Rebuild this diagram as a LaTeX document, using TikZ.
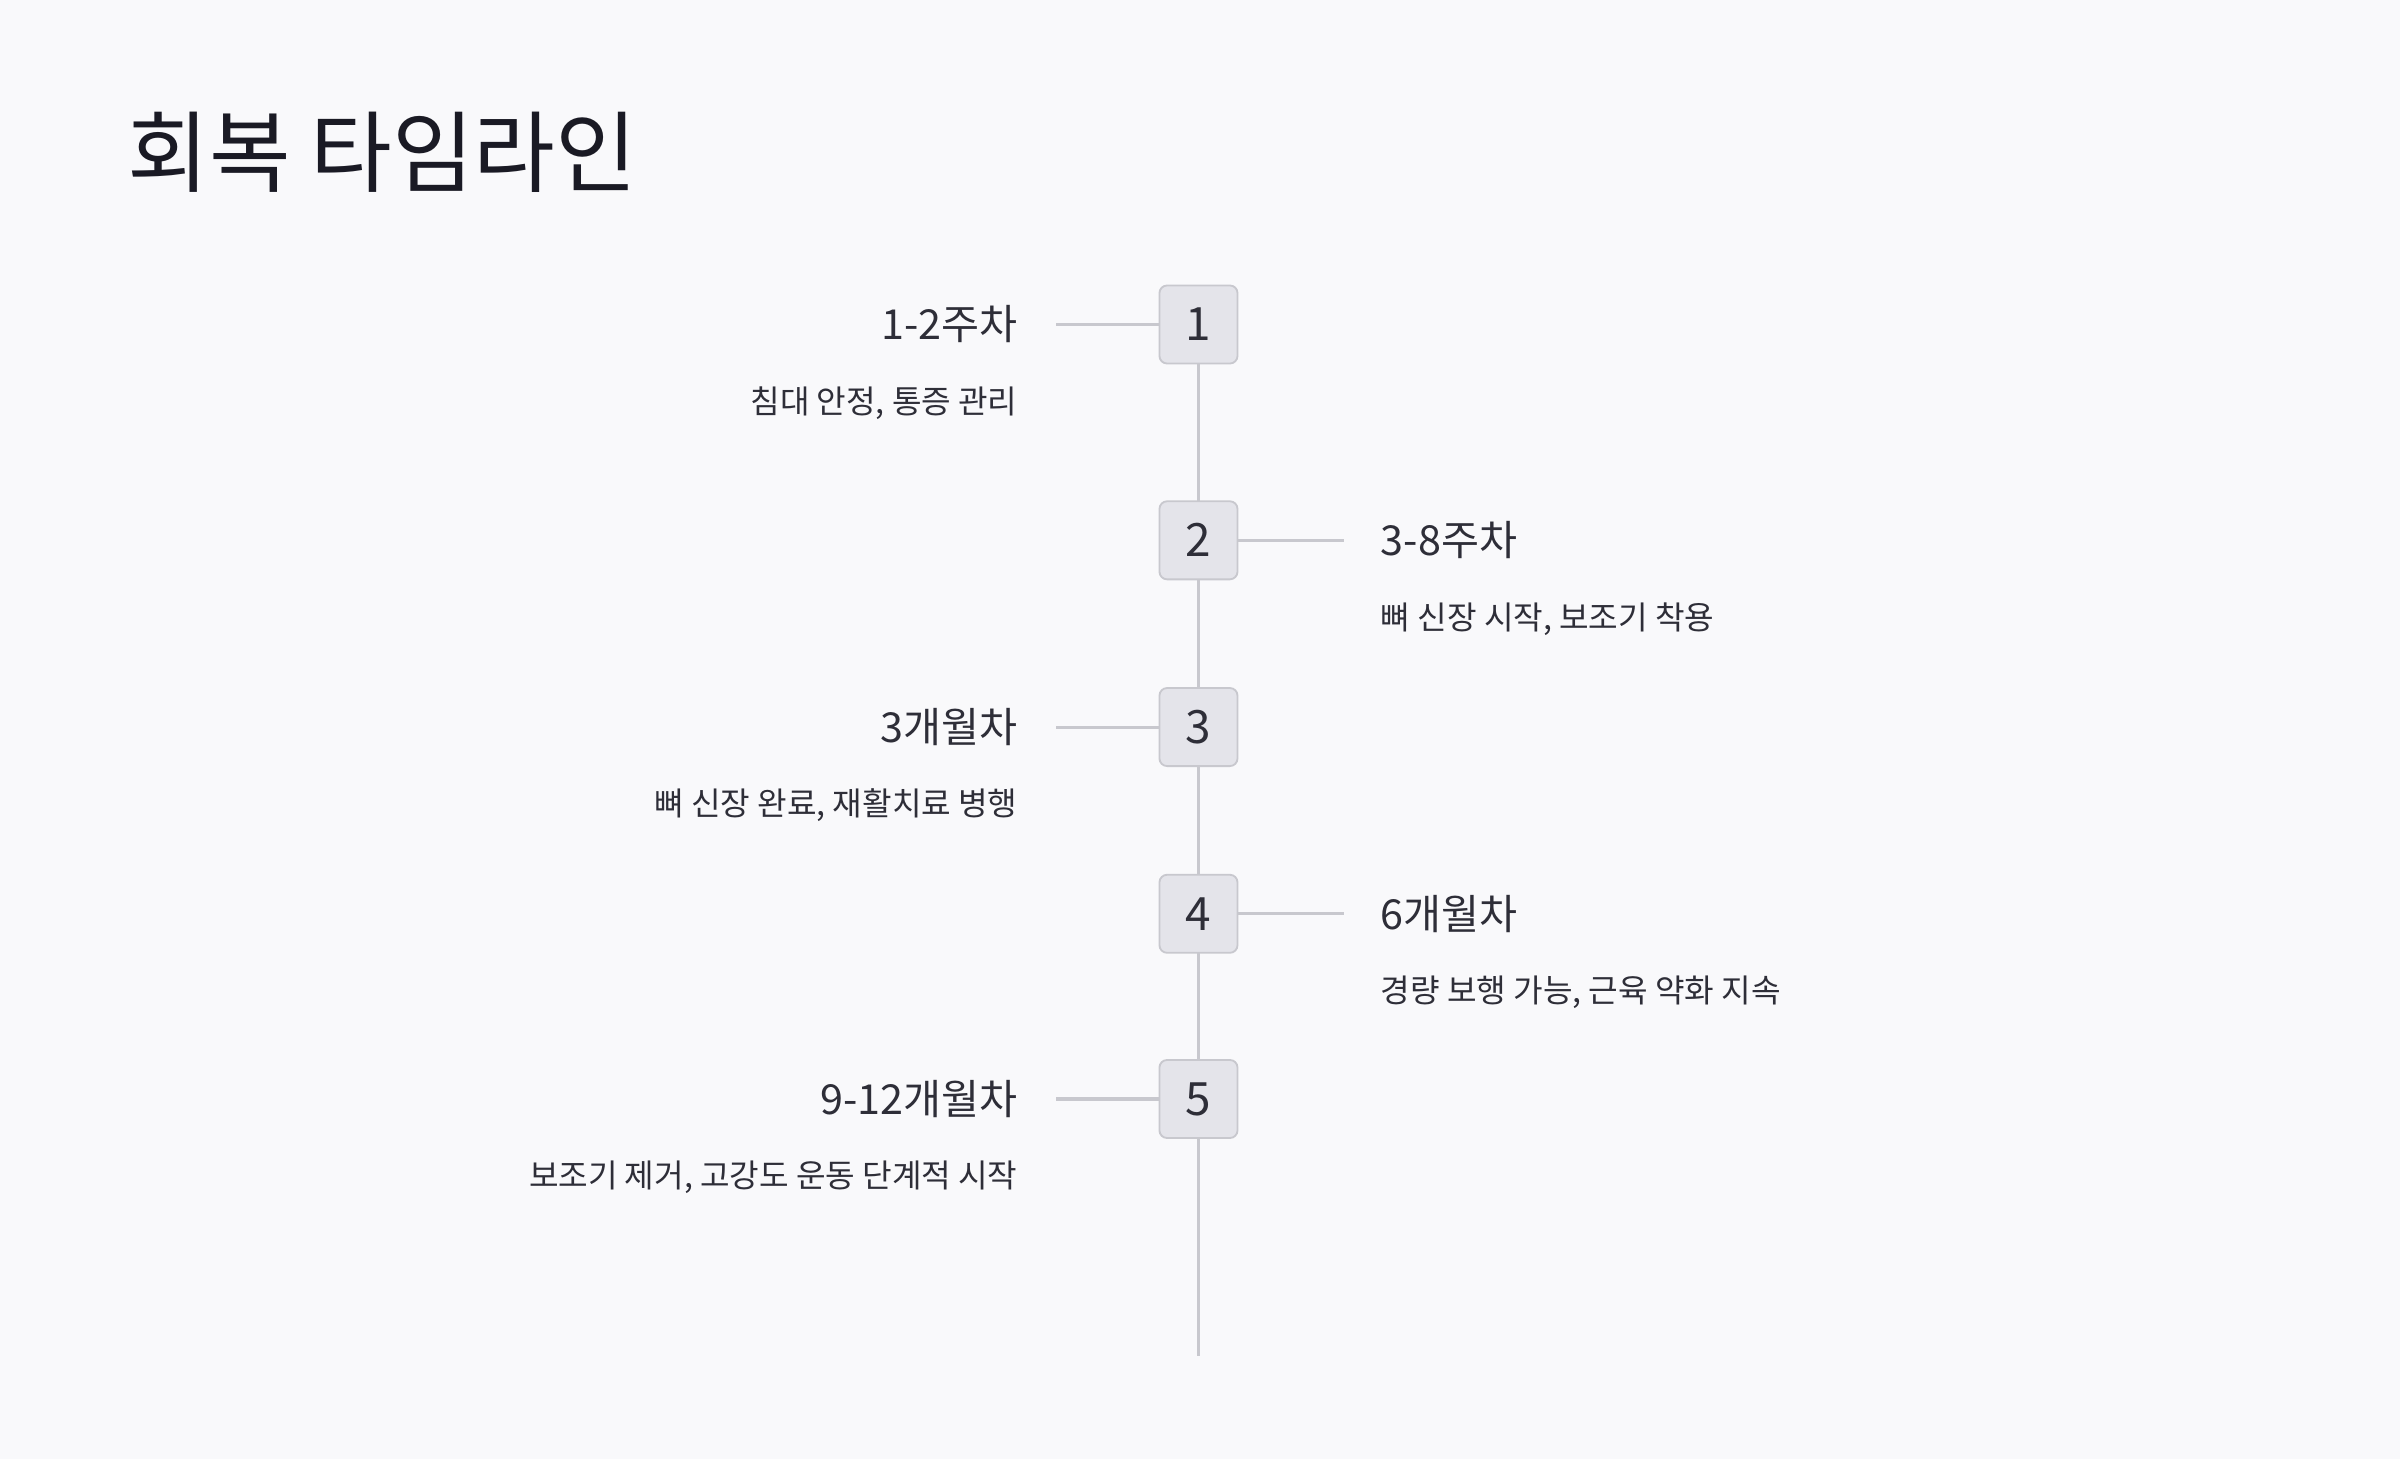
\documentclass[tikz,border=0pt]{standalone}
\usepackage{fontspec}
\setmainfont{Noto Sans CJK KR}
\definecolor{bg}{HTML}{F9F9FB}
\definecolor{ln}{HTML}{C8C8CE}
\definecolor{bx}{HTML}{E4E4EA}
\definecolor{tx}{HTML}{2E2E38}
\definecolor{tt}{HTML}{1A1A24}
\begin{document}
\begin{tikzpicture}[x=1pt,y=-1pt,
  stepbox/.style={draw=ln,fill=bx,line width=1.2pt,rounded corners=5pt,minimum width=51pt,minimum height=51pt,inner sep=0pt,font=\fontsize{30}{30}\selectfont,text=tx},
  conn/.style={draw=ln,line width=2pt},
  head/.style={font=\fontsize{27}{30}\selectfont,text=tx,inner sep=0pt},
  sub/.style={font=\fontsize{21}{24}\selectfont,text=tx,inner sep=0pt}]
\fill[bg] (0,0) rectangle (1568,953);
\useasboundingbox (0,0) rectangle (1568,953);
\node[anchor=base west,inner sep=0pt,font=\fontsize{58}{60}\selectfont,text=tt] (title) at (83,121) {회복 타임라인};
\coordinate (top) at (783,212);
\coordinate (bot) at (783,886);
\draw[conn] (top) -- (bot);
\foreach \i/\y in {1/212,2/353,3/475,4/597,5/718}{
  \node[stepbox] (b\i) at (783,\y) {\i};
}
\coordinate (l1) at (690,212); \coordinate (l3) at (690,475); \coordinate (l5) at (690,718);
\coordinate (r2) at (878,353); \coordinate (r4) at (878,597);
\draw[conn] (l1) -- (b1.west);
\draw[conn] (l3) -- (b3.west);
\draw[conn] (l5) -- (b5.west);
\draw[conn] (b2.east) -- (r2);
\draw[conn] (b4.east) -- (r4);
\node[head,anchor=base east] (h1) at (665,222) {1-2주차};
\node[sub,anchor=base east] (s1) at (665,270) {침대 안정, 통증 관리};
\node[head,anchor=base west] (h2) at (902,363) {3-8주차};
\node[sub,anchor=base west] (s2) at (902,411) {뼈 신장 시작, 보조기 착용};
\node[head,anchor=base east] (h3) at (665,485) {3개월차};
\node[sub,anchor=base east] (s3) at (665,533) {뼈 신장 완료, 재활치료 병행};
\node[head,anchor=base west] (h4) at (902,607) {6개월차};
\node[sub,anchor=base west] (s4) at (902,655) {경량 보행 가능, 근육 약화 지속};
\node[head,anchor=base east] (h5) at (665,728) {9-12개월차};
\node[sub,anchor=base east] (s5) at (665,776) {보조기 제거, 고강도 운동 단계적 시작};
\end{tikzpicture}
\end{document}
